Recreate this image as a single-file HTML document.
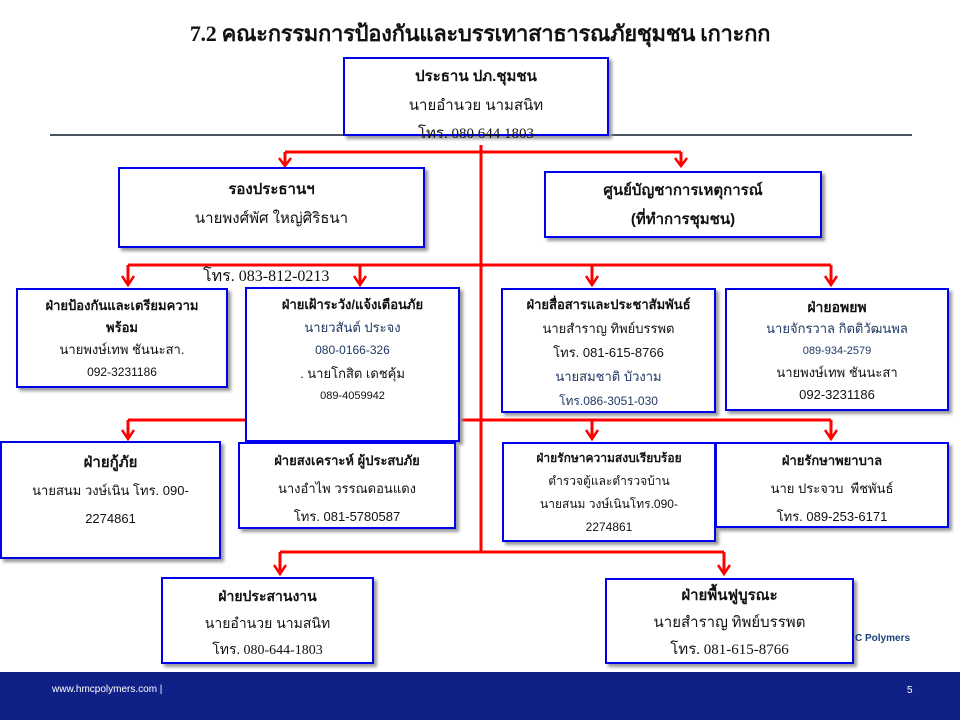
<!DOCTYPE html>
<html><head><meta charset="utf-8"><style>
body{margin:0;width:960px;height:720px;position:relative;background:#fff;overflow:hidden;font-family:"Liberation Sans","Noto Sans CJK SC",sans-serif;color:#111}
.b{position:absolute;box-sizing:border-box;border:2.5px solid #0000ee;background:#fff;box-shadow:3px 3px 3px #999;text-align:center;font-size:13px}
.b div{white-space:nowrap}
.t{font-weight:bold}
.nv{color:#1f3864}
.abs{position:absolute;white-space:nowrap}
svg{position:absolute;left:0;top:0}
</style></head><body>
<div class="abs" style="left:0;width:960px;top:16px;text-align:center;font-family:'Liberation Serif','Noto Serif CJK SC',serif;font-weight:bold;font-size:22px;letter-spacing:-0.3px">7.2 คณะกรรมการป้องกันและบรรเทาสาธารณภัยชุมชน เกาะกก</div>
<div style="position:absolute;left:50px;top:134px;width:862px;height:2px;background:#4a5560"></div>
<svg width="960" height="720">
<g stroke="#f00" stroke-width="3" fill="none">
<line x1="481" y1="145" x2="481" y2="552"/>
<line x1="285" y1="152" x2="681" y2="152"/><line x1="285" y1="152" x2="285" y2="165"/><line x1="681" y1="152" x2="681" y2="165"/>
<line x1="128" y1="265" x2="831" y2="265"/>
<line x1="128" y1="265" x2="128" y2="284"/><line x1="360" y1="265" x2="360" y2="284"/><line x1="592" y1="265" x2="592" y2="284"/><line x1="831" y1="265" x2="831" y2="284"/>
<line x1="128" y1="420" x2="831" y2="420"/>
<line x1="128" y1="420" x2="128" y2="438"/><line x1="360" y1="420" x2="360" y2="438"/><line x1="592" y1="420" x2="592" y2="438"/><line x1="831" y1="420" x2="831" y2="438"/>
<line x1="280" y1="552" x2="724" y2="552"/><line x1="280" y1="552" x2="280" y2="573"/><line x1="724" y1="552" x2="724" y2="573"/>
</g>
<g stroke="#f00" stroke-width="2.5" fill="none">
<polyline points="279,158 285,166 291,158"/><polyline points="675,158 681,166 687,158"/>
<polyline points="122,276 128,285 134,276"/><polyline points="354,276 360,285 366,276"/><polyline points="586,276 592,285 598,276"/><polyline points="825,276 831,285 837,276"/>
<polyline points="122,430 128,439 134,430"/><polyline points="354,430 360,439 366,430"/><polyline points="586,430 592,439 598,430"/><polyline points="825,430 831,439 837,430"/>
<polyline points="274,565 280,574 286,565"/><polyline points="718,565 724,574 730,565"/>
</g>
</svg>
<div class="b" style="left:343px;top:57px;width:266px;height:79px;font-family:'Liberation Sans','Noto Sans CJK SC',sans-serif;font-size:15px;line-height:29px;padding-top:3px">
<div class="t">ประธาน ปภ.ชุมชน</div><div>นายอำนวย นามสนิท</div><div style="font-family:'Liberation Serif',serif">โทร. 080 644 1803</div></div>
<div class="b" style="left:118px;top:167px;width:307px;height:81px;font-size:15px;line-height:29px;padding-top:6px"><div class="t">รองประธานฯ</div><div>นายพงศ์พัศ ใหญ่ศิริธนา</div></div>
<div class="b" style="left:544px;top:171px;width:278px;height:67px;font-size:15px;line-height:29px;padding-top:3px"><div class="t">ศูนย์บัญชาการเหตุการณ์</div><div class="t">(ที่ทำการชุมชน)</div></div>
<div class="abs" style="left:203px;top:264px;font-family:'Liberation Serif',serif;font-size:16px">โทร. 083-812-0213</div>
<div class="b" style="left:16px;top:288px;width:212px;height:100px;line-height:22px;padding-top:5px"><div class="t">ฝ่ายป้องกันและเตรียมความ</div><div class="t">พร้อม</div><div>นายพงษ์เทพ ชันนะสา.</div><div style="font-size:12px">092-3231186</div></div>
<div class="b" style="left:245px;top:287px;width:215px;height:155px;line-height:23px;padding-top:4px"><div class="t">ฝ่ายเฝ้าระวัง/แจ้งเตือนภัย</div><div class="nv">นายวสันต์ ประจง</div><div class="nv" style="font-size:12px">080-0166-326</div><div>. นายโกสิต เดชคุ้ม</div><div style="font-size:11px">089-4059942</div></div>
<div class="b" style="left:501px;top:288px;width:215px;height:125px;line-height:24px;padding-top:3px"><div class="t">ฝ่ายสื่อสารและประชาสัมพันธ์</div><div>นายสำราญ ทิพย์บรรพต</div><div>โทร. 081-615-8766</div><div class="nv">นายสมชาติ บัวงาม</div><div class="nv" style="font-size:12px">โทร.086-3051-030</div></div>
<div class="b" style="left:725px;top:288px;width:224px;height:123px;line-height:22px;padding-top:6px"><div class="t" style="font-size:14px">ฝ่ายอพยพ</div><div class="nv">นายจักรวาล กิตติวัฒนพล</div><div class="nv" style="font-size:11px">089-934-2579</div><div>นายพงษ์เทพ ชันนะสา</div><div>092-3231186</div></div>
<div class="b" style="left:0px;top:441px;width:221px;height:118px;line-height:28px;padding-top:6px"><div class="t" style="font-size:15px">ฝ่ายกู้ภัย</div><div>นายสนม วงษ์เนิน โทร. 090-</div><div>2274861</div></div>
<div class="b" style="left:238px;top:442px;width:218px;height:87px;line-height:28px;padding-top:3px"><div class="t">ฝ่ายสงเคราะห์ ผู้ประสบภัย</div><div>นางอำไพ วรรณดอนแดง</div><div>โทร. 081-5780587</div></div>
<div class="b" style="left:502px;top:442px;width:214px;height:100px;line-height:23px;padding-top:3px;font-size:12px"><div class="t">ฝ่ายรักษาความสงบเรียบร้อย</div><div>ตำรวจตู้และตำรวจบ้าน</div><div>นายสนม วงษ์เนินโทร.090-</div><div>2274861</div></div>
<div class="b" style="left:715px;top:442px;width:234px;height:86px;line-height:28px;padding-top:3px"><div class="t">ฝ่ายรักษาพยาบาล</div><div>นาย ประจวบ &nbsp;พืชพันธ์</div><div>โทร. 089-253-6171</div></div>
<div class="b" style="left:161px;top:577px;width:213px;height:87px;line-height:27px;padding-top:4px;font-size:14px"><div class="t">ฝ่ายประสานงาน</div><div>นายอำนวย นามสนิท</div><div style="font-family:'Liberation Serif',serif">โทร. 080-644-1803</div></div>
<div class="b" style="left:605px;top:578px;width:249px;height:86px;line-height:27px;padding-top:3px;font-size:15px;font-family:'Liberation Serif',serif"><div class="t">ฝ่ายพื้นฟูบูรณะ</div><div>นายสำราญ ทิพย์บรรพต</div><div>โทร. 081-615-8766</div></div>
<div class="abs" style="left:855px;top:633px;font-size:10px;font-weight:bold;color:#1d3f7a">C Polymers</div>
<div style="position:absolute;left:0;top:672px;width:960px;height:48px;background:#0f2087"></div>
<div class="abs" style="left:52px;top:684px;color:#fff;font-size:10px">www.hmcpolymers.com |</div>
<div class="abs" style="left:907px;top:685px;color:#fff;font-size:10px">5</div>
</body></html>
